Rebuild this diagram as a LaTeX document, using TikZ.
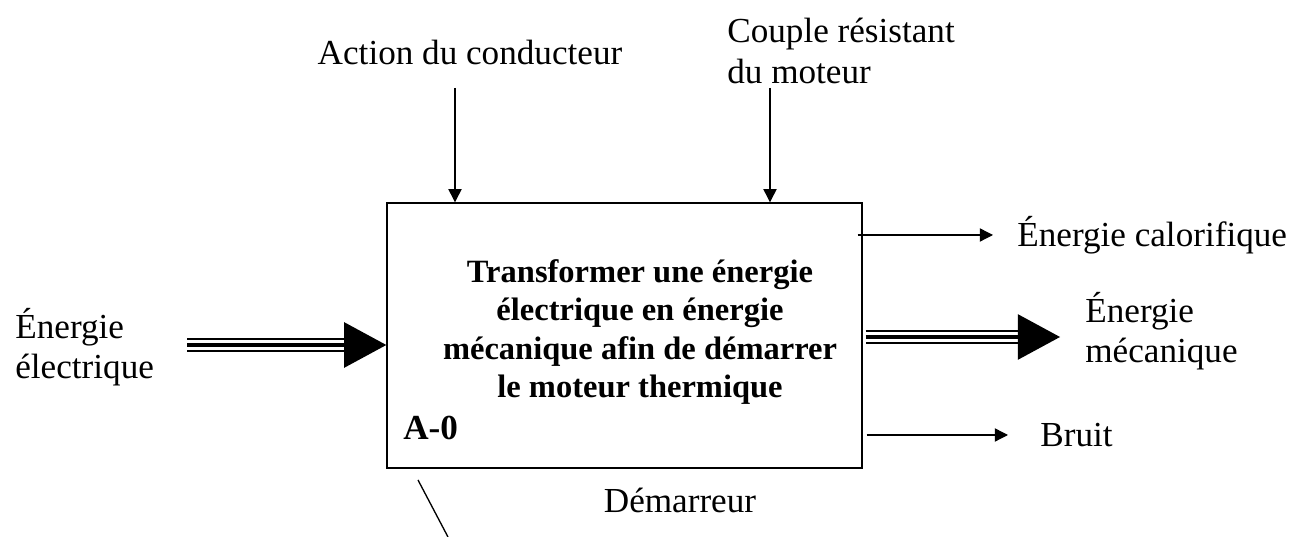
\documentclass[tikz,border=0pt]{standalone}
\usepackage{fontspec}
\setmainfont{Liberation Serif}
\usetikzlibrary{arrows.meta, positioning}

\begin{document}
\begin{tikzpicture}[
        font=\fontsize{20}{23}\selectfont,
        box/.style={rectangle, draw, line width=0.8pt, minimum width=9.5cm, minimum height=5.3cm},
        lbl/.style={align=left, inner sep=0pt},
        line/.style={line width=0.75pt, -{Triangle[length=7.5pt, width=7.5pt]}},
        flowbody/.style={double, double distance=5.2pt, line width=1.3pt, shorten >=22pt},
        flowmid/.style={line width=2.8pt, -{Triangle[length=24pt, width=26pt, line width=0pt]}}
    ]
    \useasboundingbox (0,0) rectangle (26,10.74);
    \node [box] (a0) at (12.49,4.03) {};
    \node [align=center, font=\fontsize{18.5}{21.7}\selectfont\bfseries] (task) at (12.80,4.10)
        {Transformer une énergie\\électrique en énergie\\mécanique afin de démarrer\\le moteur thermique};
    \node [lbl, anchor=west, font=\fontsize{20}{23}\selectfont\bfseries] (ref) at (8.06,2.18) {A-0};
    % controles
    \node [lbl] (action) at (9.40,9.70) {Action du conducteur};
    \node [lbl, anchor=west] (couple) at (14.54,9.72) {Couple résistant\\du moteur};
    \coordinate (actin) at (9.10,8.98);
    \coordinate (cplin) at (15.40,8.98);
    \draw[line] (actin) -- (actin |- a0.north);
    \draw[line] (cplin) -- (cplin |- a0.north);
    % entree
    \node [lbl, anchor=west] (elec) at (0.30,3.80) {Énergie\\électrique};
    \coordinate (elecin) at (3.74,3.84);
    \draw[flowbody] (elecin) -- (elecin -| a0.west);
    \draw[flowmid] (elecin) -- (elecin -| a0.west);
    % sorties
    \coordinate (calout) at (19.86,6.04);
    \coordinate (mecout) at (21.20,4.00);
    \coordinate (brout) at (20.16,2.04);
    \node [lbl, anchor=west] (cal) at (20.34,6.04) {Énergie calorifique};
    \node [lbl, anchor=west] (meca) at (21.70,4.12) {Énergie\\mécanique};
    \node [lbl, anchor=west] (bruit) at (20.80,2.04) {Bruit};
    \draw[line] ([xshift=-0.1cm]calout -| a0.east) -- (calout);
    \draw[flowbody] ([xshift=0.06cm]mecout -| a0.east) -- (mecout);
    \draw[flowmid] ([xshift=0.06cm]mecout -| a0.east) -- (mecout);
    \draw[line] ([xshift=0.08cm]brout -| a0.east) -- (brout);
    % support
    \node [lbl] (dem) at (13.60,0.74) {Démarreur};
    \coordinate (demtop) at (8.36,1.14);
    \coordinate (dembot) at (8.96,0);
    \draw[line width=0.75pt] (demtop) -- (dembot);
\end{tikzpicture}
\end{document}
